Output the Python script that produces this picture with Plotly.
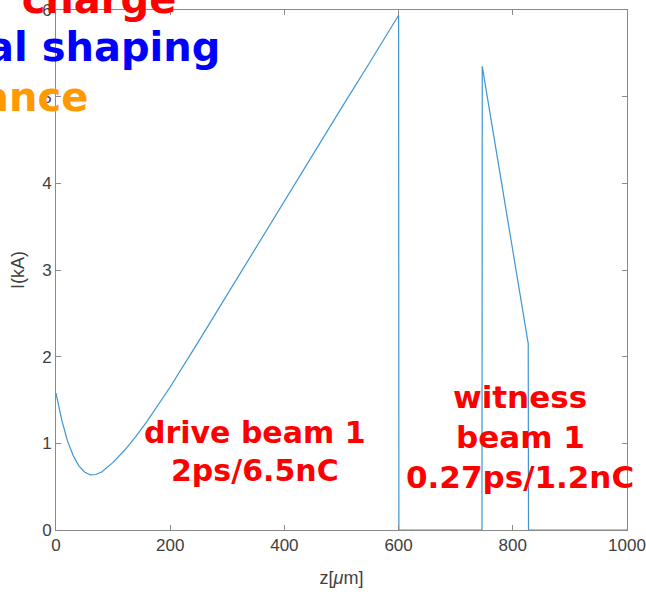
import plotly.graph_objects as go

# drive beam current profile (z in um, I in kA)
drive_z = [0, 10, 20, 30, 40, 50, 60, 70, 80, 90, 100, 120, 140, 160, 180, 200,
           250, 300, 350, 400, 450, 500, 550, 600]
drive_I = [1.58, 1.27, 1.03, 0.86, 0.74, 0.67, 0.635, 0.64, 0.67, 0.72, 0.78, 0.92,
           1.08, 1.26, 1.45, 1.65, 2.18, 2.72, 3.26, 3.80, 4.33, 4.87, 5.40, 5.94]
# gap and witness beam
rest_z = [600.5, 746, 746.5, 827, 827.5, 1000]
rest_I = [0, 0, 5.35, 2.15, 0, 0]

x_ticks = [0, 200, 400, 600, 800, 1000]
y_ticks = [0, 1, 2, 3, 4, 5, 6]

z = drive_z + rest_z
I = drive_I + rest_I

fig = go.Figure()
fig.add_trace(go.Scatter(x=z, y=I, mode="lines",
                         line=dict(color="#3f95d2", width=1.2),
                         showlegend=False))

axis_common = dict(showline=True, linecolor="#8a8a8a", linewidth=1, mirror="allticks",
                   ticks="inside", ticklen=5, tickcolor="#8a8a8a", showgrid=False,
                   zeroline=False, automargin=False,
                   tickfont=dict(family="Liberation Sans", size=17, color="#404040"))

fig.update_layout(
    width=646, height=596,
    margin=dict(l=56, r=19, t=10, b=66),
    paper_bgcolor="white", plot_bgcolor="white",
    xaxis=dict(range=[0, 1000], tickvals=x_ticks,
               title=dict(text="z[<i>μ</i>m]", standoff=16,
                          font=dict(family="Liberation Sans", size=18, color="#404040")),
               **axis_common),
    yaxis=dict(range=[0, 6], tickvals=y_ticks,
               title=dict(text="I(kA)", standoff=12,
                          font=dict(family="Liberation Sans", size=18, color="#404040")),
               **axis_common),
)

bold = "DejaVu Sans"
red = "#ff0000"
# beam labels
for txt, xx, yy, fs in [("drive beam 1", 348, 1.12, 30), ("2ps/6.5nC", 348, 0.69, 30),
                        ("witness", 813, 1.53, 31), ("beam 1", 813, 1.07, 31),
                        ("0.27ps/1.2nC", 813, 0.61, 31)]:
    fig.add_annotation(x=xx, y=yy, xref="x", yref="y", text="<b>" + txt + "</b>",
                       showarrow=False, xanchor="center", yanchor="middle",
                       font=dict(family=bold, size=fs, color=red))

# cut-off overlay texts at top-left
for txt, px_right, ycen, col in [("r charge", 178, 1.021, "#ff0000"),
                                 ("al shaping", 222, 0.928, "#0000ff"),
                                 ("ance", 90, 0.832, "#ff9900")]:
    fig.add_annotation(x=(px_right - 56) / 571, y=ycen, xref="paper", yref="paper",
                       text="<b>" + txt + "</b>", showarrow=False,
                       xanchor="right", yanchor="middle",
                       font=dict(family=bold, size=40, color=col))

fig.write_html("out.html")
